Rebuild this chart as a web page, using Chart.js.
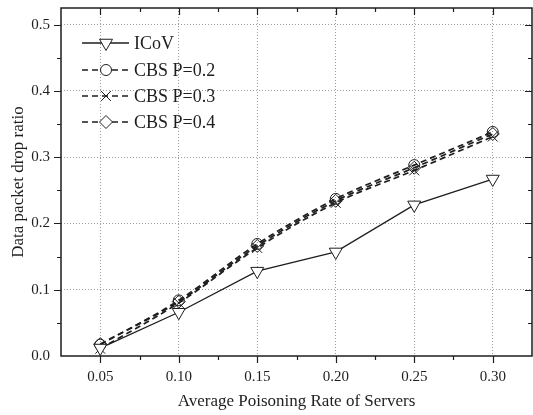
<!DOCTYPE html>
<html>
<head>
<meta charset="utf-8">
<script src="https://cdn.jsdelivr.net/npm/chart.js@4/dist/chart.umd.min.js"></script>
<style>
  html, body { margin: 0; padding: 0; background: #fff; }
  #wrap { width: 533px; height: 415px; position: relative; }
</style>
</head>
<body>
<div id="wrap"><canvas id="lineChart"></canvas></div>
<script>
var rates = [0.05, 0.10, 0.15, 0.20, 0.25, 0.30];
var icov = [0.012, 0.066, 0.128, 0.157, 0.228, 0.267];
var cbs02 = [0.017, 0.084, 0.169, 0.237, 0.288, 0.338];
var cbs03 = [0.011, 0.080, 0.163, 0.231, 0.280, 0.331];
var cbs04 = [0.018, 0.082, 0.166, 0.234, 0.284, 0.335];
var xTickLabels = ["0.05", "0.10", "0.15", "0.20", "0.25", "0.30"];
var yTickLabels = ["0.0", "0.1", "0.2", "0.3", "0.4", "0.5"];

var ink = "#1e1e1e";
var serif = "'Liberation Serif', 'DejaVu Serif', serif";

function toPoints(values) {
  return values.map(function (v, i) {
    return { x: rates[i], y: v };
  });
}

function isMajorX(v) {
  var k = Math.round(v * 1000);
  return k % 50 === 0 && k >= 50 && k <= 300;
}
function isMajorY(v) {
  var k = Math.round(v * 1000);
  return k % 100 === 0 && k <= 500;
}

// major ticks from the label lists plus a minor tick half way between
function xTicks() {
  var out = [];
  xTickLabels.forEach(function (l, i) {
    var v = parseFloat(l);
    out.push({ value: v - 0.025 });
    out.push({ value: v });
    if (i === xTickLabels.length - 1) out.push({ value: v + 0.025 });
  });
  return out;
}
function yTicks() {
  var out = [];
  yTickLabels.forEach(function (l, i) {
    var v = parseFloat(l);
    out.push({ value: v });
    if (i < yTickLabels.length - 1) out.push({ value: v + 0.05 });
  });
  return out;
}

// tick marks, frame and the legend inside the plot
var framePlugin = {
  id: "frame",
  afterDraw: function (chart) {
    var ctx = chart.ctx;
    var a = chart.chartArea;
    var xs = chart.scales.x, ys = chart.scales.y;
    ctx.save();
    ctx.strokeStyle = ink;
    ctx.lineWidth = 1.2;
    xs.ticks.forEach(function (t) {
      if (t.value <= xs.min + 1e-9 || t.value >= xs.max - 1e-9) return;
      var px = Math.round(xs.getPixelForValue(t.value)) + 0.5;
      var len = isMajorX(t.value) ? 7 : 4;
      ctx.beginPath();
      ctx.moveTo(px, a.bottom); ctx.lineTo(px, a.bottom + len);
      ctx.moveTo(px, a.top); ctx.lineTo(px, a.top + len);
      ctx.stroke();
    });
    ys.ticks.forEach(function (t) {
      if (t.value <= ys.min + 1e-9 || t.value >= ys.max - 1e-9) return;
      var py = Math.round(ys.getPixelForValue(t.value)) + 0.5;
      var len = isMajorY(t.value) ? 7 : 4;
      ctx.beginPath();
      ctx.moveTo(a.left, py); ctx.lineTo(a.left - len, py);
      ctx.moveTo(a.right, py); ctx.lineTo(a.right - len, py);
      ctx.stroke();
    });
    ctx.lineWidth = 1.5;
    ctx.strokeRect(a.left, a.top, a.right - a.left, a.bottom - a.top);

    // legend
    var rowY = [35, 62, 88, 114];
    chart.data.datasets.forEach(function (ds, i) {
      var y = a.top + rowY[i];
      var x0 = a.left + 21, x1 = a.left + 68, xm = a.left + 45;
      ctx.strokeStyle = ink;
      ctx.lineWidth = ds.borderWidth;
      ctx.setLineDash(ds.borderDash || []);
      ctx.beginPath();
      ctx.moveTo(x0, y); ctx.lineTo(x1, y);
      ctx.stroke();
      ctx.setLineDash([]);
      ctx.fillStyle = "#fff";
      ctx.lineWidth = 1;
      Chart.helpers.drawPoint(ctx, {
        pointStyle: ds.pointStyle,
        radius: ds.pointRadius,
        rotation: ds.pointRotation || 0,
        borderWidth: 1
      }, xm, y);
      ctx.fillStyle = ink;
      ctx.font = "18px " + serif;
      ctx.textBaseline = "middle";
      ctx.textAlign = "left";
      ctx.fillText(ds.label, a.left + 73, y + 1);
    });
    ctx.restore();
  }
};

var ctx = document.getElementById("lineChart").getContext("2d");
var lineChart = new Chart(ctx, {
  type: "line",
  data: {
    datasets: [
      {
        label: "ICoV",
        data: toPoints(icov),
        borderColor: ink,
        borderWidth: 1.3,
        pointStyle: "triangle",
        pointRotation: 180,
        pointRadius: 7.5,
        pointBackgroundColor: "#fff",
        pointBorderColor: ink,
        pointBorderWidth: 1
      },
      {
        label: "CBS P=0.2",
        data: toPoints(cbs02),
        borderColor: ink,
        borderWidth: 1.7,
        borderDash: [6, 4],
        cubicInterpolationMode: "monotone",
        pointStyle: "circle",
        pointRadius: 5.5,
        pointBackgroundColor: "rgba(255,255,255,0)",
        pointBorderColor: ink,
        pointBorderWidth: 1
      },
      {
        label: "CBS P=0.3",
        data: toPoints(cbs03),
        borderColor: ink,
        borderWidth: 1.7,
        borderDash: [6, 4],
        cubicInterpolationMode: "monotone",
        pointStyle: "crossRot",
        pointRadius: 7,
        pointBackgroundColor: "rgba(255,255,255,0)",
        pointBorderColor: ink,
        pointBorderWidth: 1
      },
      {
        label: "CBS P=0.4",
        data: toPoints(cbs04),
        borderColor: ink,
        borderWidth: 1.7,
        borderDash: [6, 4],
        cubicInterpolationMode: "monotone",
        pointStyle: "rectRot",
        pointRadius: 6.5,
        pointBackgroundColor: "rgba(255,255,255,0)",
        pointBorderColor: ink,
        pointBorderWidth: 1
      }
    ]
  },
  options: {
    responsive: true,
    maintainAspectRatio: false,
    animation: false,
    layout: { autoPadding: false, padding: { top: 8, right: 1, left: 0, bottom: 0 } },
    plugins: {
      legend: { display: false },
      tooltip: { enabled: false }
    },
    scales: {
      x: {
        type: "linear",
        min: 0.025,
        max: 0.325,
        afterBuildTicks: function (scale) { scale.ticks = xTicks(); },
        afterFit: function (scale) {
          scale.height = 59;
          scale.paddingLeft = 0;
          scale.paddingRight = 0;
        },
        border: { display: false, dash: [1, 2] },
        grid: {
          drawTicks: true,
          tickLength: 12,
          tickColor: "rgba(0,0,0,0)",
          lineWidth: 1,
          color: function (c) {
            return c.tick && isMajorX(c.tick.value) ? "#9a9a9a" : "rgba(0,0,0,0)";
          }
        },
        ticks: {
          autoSkip: false,
          maxRotation: 0,
          padding: 0,
          color: ink,
          font: { family: serif, size: 15 },
          callback: function (v) {
            if (!isMajorX(v)) return "";
            return xTickLabels[Math.round(v * 1000) / 50 - 1];
          }
        },
        title: {
          display: true,
          text: "Average Poisoning Rate of Servers",
          color: ink,
          font: { family: serif, size: 17 },
          padding: { top: 0, bottom: 3 }
        }
      },
      y: {
        min: 0,
        max: 0.525,
        afterBuildTicks: function (scale) { scale.ticks = yTicks(); },
        afterFit: function (scale) {
          scale.width = 61;
          scale.paddingTop = 0;
          scale.paddingBottom = 0;
        },
        border: { display: false, dash: [1, 2] },
        grid: {
          drawTicks: true,
          tickLength: 11,
          tickColor: "rgba(0,0,0,0)",
          lineWidth: 1,
          color: function (c) {
            var v = c.tick ? c.tick.value : 0;
            return isMajorY(v) && v > 0.001 ? "#9a9a9a" : "rgba(0,0,0,0)";
          }
        },
        ticks: {
          autoSkip: false,
          padding: 0,
          color: ink,
          font: { family: serif, size: 15 },
          callback: function (v) {
            if (!isMajorY(v)) return "";
            return yTickLabels[Math.round(v * 10)];
          }
        },
        title: {
          display: true,
          text: "Data packet drop ratio",
          color: ink,
          font: { family: serif, size: 17 },
          padding: { top: 8, bottom: 0 }
        }
      }
    }
  },
  plugins: [framePlugin]
});
</script>
</body>
</html>
